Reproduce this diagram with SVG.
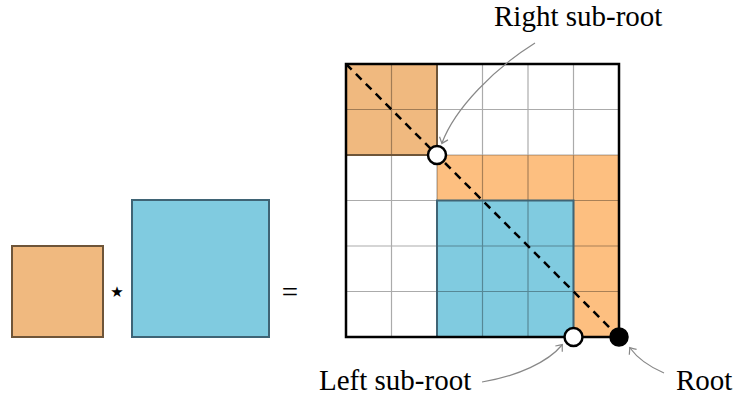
<svg xmlns="http://www.w3.org/2000/svg" width="735" height="398" viewBox="0 0 735 398">
<style>
.lbl{font-family:"Liberation Serif","Times New Roman",serif;font-size:29px;fill:#000}
.grid{stroke:#000;stroke-opacity:0.33;stroke-width:1.2;fill:none}
.conn{fill:none;stroke:#888;stroke-width:1.2}
.open{fill:#fff;stroke:#000;stroke-width:2.5}
</style>
<defs>
<marker id="to" viewBox="-6 -6 10 12" markerWidth="10" markerHeight="12" refX="0" refY="0" orient="auto" markerUnits="userSpaceOnUse">
<path d="M-5,-4.5 Q-1,-1 0.5,0 Q-1,1 -5,4.5" fill="none" stroke="#888" stroke-width="1.2"/>
</marker>
</defs>
<g id="left-orange">
<rect x="12" y="246" width="91" height="91" fill="#f0b97f" stroke="#6e5539" stroke-width="2"/>
</g>
<g id="star">
<text x="117" y="297" font-family="DejaVu Sans,sans-serif" font-size="15" text-anchor="middle">★</text>
</g>
<g id="left-blue">
<rect x="132" y="200" width="137" height="137" fill="#80cbe0" stroke="#3f6475" stroke-width="2"/>
</g>
<g id="equals">
<text class="lbl" x="290" y="302" text-anchor="middle">=</text>
</g>
<g id="matrix">
<rect x="346" y="64" width="273" height="273" fill="#fff"/>
<rect x="437" y="155" width="182" height="182" fill="#fdbf80"/>
<rect x="346" y="64" width="91" height="91" fill="#f0b97f"/>
<rect x="437" y="200.5" width="136.5" height="136.5" fill="#80cbe0"/>
<path class="grid" d="M391.5,64V337M437,64V337M482.5,64V337M528,64V337M573.5,64V337M346,109.5H619M346,155H619M346,200.5H619M346,246H619M346,291.5H619"/>
<rect x="346" y="64" width="91" height="91" fill="none" stroke="#6e5539" stroke-width="2"/>
<rect x="437" y="200.5" width="136.5" height="136.5" fill="none" stroke="#3f6475" stroke-width="2"/>
<rect x="346" y="64" width="273" height="273" fill="none" stroke="#000" stroke-width="2.5"/>
<line x1="346" y1="64" x2="619" y2="337" stroke="#000" stroke-width="2.5" stroke-dasharray="8,6"/>
</g>
<g id="right-subroot-node">
<circle class="open" cx="437" cy="155" r="9"/>
</g>
<g id="left-subroot-node">
<circle class="open" cx="573.5" cy="337" r="9"/>
</g>
<g id="root-node">
<circle cx="619" cy="337" r="9" fill="#000" stroke="#000" stroke-width="1.5"/>
</g>
<g id="connectors">
<path class="conn" d="M535,43 C495,68 455,108 442,143" marker-end="url(#to)"/>
<path class="conn" d="M482,382 C518,376 548,362 562,345" marker-end="url(#to)"/>
<path class="conn" d="M664,373 C650,367 638,359 630,348" marker-end="url(#to)"/>
</g>
<g id="labels">
<text class="lbl" x="494" y="26">Right sub-root</text>
<text class="lbl" x="319" y="390">Left sub-root</text>
<text class="lbl" x="676" y="390">Root</text>
</g>
</svg>
